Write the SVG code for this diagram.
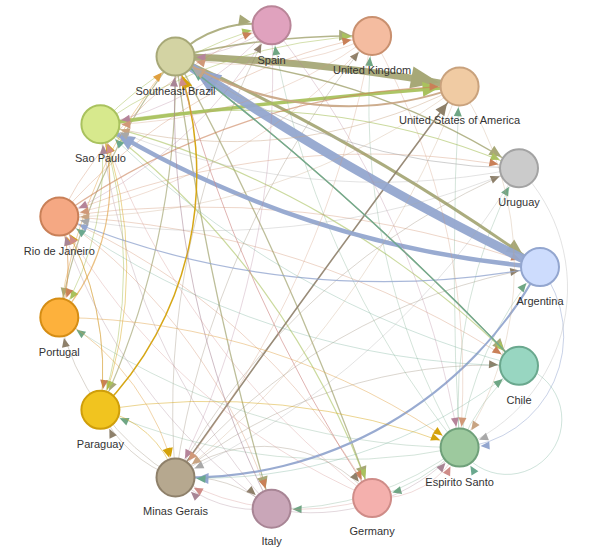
<svg xmlns="http://www.w3.org/2000/svg" xmlns:xlink="http://www.w3.org/1999/xlink" width="594" height="552" viewBox="0 0 594 552">
<style>
.e{fill:none;stroke-width:1;stroke-opacity:.32}
.sb{stroke:#a7a877}.sp{stroke:#a9c25e}.rj{stroke:#c98058}.mg{stroke:#8e806a}.es{stroke:#6fa684}
.ar{stroke:#93a6cf}.ch{stroke:#6aa88e}.py{stroke:#d4a20a}.pt{stroke:#e0a040}.spa{stroke:#b5849a}
.uk{stroke:#d09878}.us{stroke:#c8a482}.ur{stroke:#a8a8a8}.it{stroke:#a88595}.ge{stroke:#cf8c88}
.n circle{stroke-width:2}
.n text{font-family:"Liberation Sans",Arial,sans-serif;font-size:11px;fill:#333;text-anchor:middle}
</style>
<defs>
<path id="ts" d="M-30,-4L-21,0L-30,4z"/>
<path id="tm" d="M-33,-5.5L-21,0L-33,5.5z"/>
<path id="tl" d="M-37,-7.5L-21,0L-37,7.5z"/>
<path id="txl" d="M-49,-11L-21,0L-49,11z"/>
<marker id="sb-s" overflow="visible" orient="auto" markerUnits="userSpaceOnUse" markerWidth="1" markerHeight="1"><use xlink:href="#ts" fill="#a7a877"/></marker>
<marker id="sb-m" overflow="visible" orient="auto" markerUnits="userSpaceOnUse" markerWidth="1" markerHeight="1"><use xlink:href="#tm" fill="#a7a877"/></marker>
<marker id="sb-l" overflow="visible" orient="auto" markerUnits="userSpaceOnUse" markerWidth="1" markerHeight="1"><use xlink:href="#tl" fill="#a7a877"/></marker>
<marker id="sb-xl" overflow="visible" orient="auto" markerUnits="userSpaceOnUse" markerWidth="1" markerHeight="1"><use xlink:href="#txl" fill="#a7a877"/></marker>
<marker id="sp-s" overflow="visible" orient="auto" markerUnits="userSpaceOnUse" markerWidth="1" markerHeight="1"><use xlink:href="#ts" fill="#a9c25e"/></marker>
<marker id="sp-l" overflow="visible" orient="auto" markerUnits="userSpaceOnUse" markerWidth="1" markerHeight="1"><use xlink:href="#tl" fill="#a9c25e"/></marker>
<marker id="rj-s" overflow="visible" orient="auto" markerUnits="userSpaceOnUse" markerWidth="1" markerHeight="1"><use xlink:href="#ts" fill="#c98058"/></marker>
<marker id="mg-s" overflow="visible" orient="auto" markerUnits="userSpaceOnUse" markerWidth="1" markerHeight="1"><use xlink:href="#ts" fill="#8e806a"/></marker>
<marker id="mg-m" overflow="visible" orient="auto" markerUnits="userSpaceOnUse" markerWidth="1" markerHeight="1"><use xlink:href="#tm" fill="#8e806a"/></marker>
<marker id="es-s" overflow="visible" orient="auto" markerUnits="userSpaceOnUse" markerWidth="1" markerHeight="1"><use xlink:href="#ts" fill="#6fa684"/></marker>
<marker id="ar-s" overflow="visible" orient="auto" markerUnits="userSpaceOnUse" markerWidth="1" markerHeight="1"><use xlink:href="#ts" fill="#93a6cf"/></marker>
<marker id="ar-m" overflow="visible" orient="auto" markerUnits="userSpaceOnUse" markerWidth="1" markerHeight="1"><use xlink:href="#tm" fill="#93a6cf"/></marker>
<marker id="ar-l" overflow="visible" orient="auto" markerUnits="userSpaceOnUse" markerWidth="1" markerHeight="1"><use xlink:href="#tl" fill="#93a6cf"/></marker>
<marker id="ar-xl" overflow="visible" orient="auto" markerUnits="userSpaceOnUse" markerWidth="1" markerHeight="1"><use xlink:href="#txl" fill="#93a6cf"/></marker>
<marker id="ch-s" overflow="visible" orient="auto" markerUnits="userSpaceOnUse" markerWidth="1" markerHeight="1"><use xlink:href="#ts" fill="#6aa88e"/></marker>
<marker id="ch-m" overflow="visible" orient="auto" markerUnits="userSpaceOnUse" markerWidth="1" markerHeight="1"><use xlink:href="#tm" fill="#6aa88e"/></marker>
<marker id="py-s" overflow="visible" orient="auto" markerUnits="userSpaceOnUse" markerWidth="1" markerHeight="1"><use xlink:href="#ts" fill="#d4a20a"/></marker>
<marker id="py-m" overflow="visible" orient="auto" markerUnits="userSpaceOnUse" markerWidth="1" markerHeight="1"><use xlink:href="#tm" fill="#d4a20a"/></marker>
<marker id="pt-s" overflow="visible" orient="auto" markerUnits="userSpaceOnUse" markerWidth="1" markerHeight="1"><use xlink:href="#ts" fill="#e0a040"/></marker>
<marker id="spa-s" overflow="visible" orient="auto" markerUnits="userSpaceOnUse" markerWidth="1" markerHeight="1"><use xlink:href="#ts" fill="#b5849a"/></marker>
<marker id="uk-s" overflow="visible" orient="auto" markerUnits="userSpaceOnUse" markerWidth="1" markerHeight="1"><use xlink:href="#ts" fill="#d09878"/></marker>
<marker id="us-s" overflow="visible" orient="auto" markerUnits="userSpaceOnUse" markerWidth="1" markerHeight="1"><use xlink:href="#ts" fill="#c8a482"/></marker>
<marker id="us-m" overflow="visible" orient="auto" markerUnits="userSpaceOnUse" markerWidth="1" markerHeight="1"><use xlink:href="#tm" fill="#c8a482"/></marker>
<marker id="ur-s" overflow="visible" orient="auto" markerUnits="userSpaceOnUse" markerWidth="1" markerHeight="1"><use xlink:href="#ts" fill="#a8a8a8"/></marker>
<marker id="it-s" overflow="visible" orient="auto" markerUnits="userSpaceOnUse" markerWidth="1" markerHeight="1"><use xlink:href="#ts" fill="#a88595"/></marker>
<marker id="ge-s" overflow="visible" orient="auto" markerUnits="userSpaceOnUse" markerWidth="1" markerHeight="1"><use xlink:href="#ts" fill="#cf8c88"/></marker>
</defs>
<rect width="594" height="552" fill="#fff"/>
<g id="edges">
<!-- Southeast Brazil -->
<path class="e sb" d="M175.5,56.6A110,110 0 0,1 271.6,25.3" style="stroke-width:2;stroke-opacity:.9" marker-end="url(#sb-m)"/>
<path class="e sb" d="M175.5,56.6A800,800 0 0,1 372.1,35.9" style="stroke-width:1.5;stroke-opacity:.85" marker-end="url(#sb-m)"/>
<path class="e sb" d="M175.5,56.6A1800,1800 0 0,1 459.6,86.4" style="stroke-width:7;stroke-opacity:.95" marker-end="url(#sb-xl)"/>
<path class="e sb" d="M175.5,56.6A700,700 0 0,1 519,168.2" style="stroke-width:1.5;stroke-opacity:.85" marker-end="url(#sb-m)"/>
<path class="e sb" d="M175.5,56.6A2200,2200 0 0,1 540,267" style="stroke-width:3;stroke-opacity:.95" marker-end="url(#sb-l)"/>
<path class="e sb" d="M175.5,56.6A3000,3000 0 0,1 519,365.8" style="stroke-width:1.5;stroke-opacity:.85" marker-end="url(#sb-m)"/>
<path class="e sb" d="M175.5,56.6A3000,3000 0 0,1 372.1,498.1" style="stroke-width:1.3;stroke-opacity:.75" marker-end="url(#sb-m)"/>
<path class="e sb" d="M175.5,56.6A3000,3000 0 0,0 271.6,508.7" style="stroke-width:1.3;stroke-opacity:.75" marker-end="url(#sb-m)"/>
<path class="e sb" d="M175.5,56.6A600,600 0 0,0 59.3,317.5" style="stroke-width:1.2;stroke-opacity:.7" marker-end="url(#sb-s)"/>
<path class="e sb" d="M175.5,56.6A800,800 0 0,1 100.4,409.8" style="stroke-width:1.2;stroke-opacity:.7" marker-end="url(#sb-s)"/>
<!-- Sao Paulo -->
<path class="e sp" d="M100.4,124.2A350,350 0 0,1 271.6,25.3" style="stroke-opacity:.5" marker-end="url(#sp-s)"/>
<path class="e sp" d="M100.4,124.2A500,500 0 0,1 372.1,35.9" style="stroke-opacity:.5" marker-end="url(#sp-s)"/>
<path class="e sp" d="M100.4,124.2A6000,6000 0 0,1 459.6,86.4" style="stroke-width:3.5;stroke-opacity:.95" marker-end="url(#sp-l)"/>
<path class="e sp" d="M100.4,124.2A700,700 0 0,1 519,168.2" style="stroke-width:1.2;stroke-opacity:.6" marker-end="url(#sp-s)"/>
<path class="e sp" d="M100.4,124.2A900,900 0 0,1 519,365.8" style="stroke-width:1.2;stroke-opacity:.6" marker-end="url(#sp-s)"/>
<path class="e sp" d="M100.4,124.2A800,800 0 0,1 372.1,498.1" style="stroke-width:1.2;stroke-opacity:.6" marker-end="url(#sp-s)"/>
<path class="e sp" d="M100.4,124.2A300,300 0 0,1 59.3,317.5" style="stroke-opacity:.5" marker-end="url(#sp-s)"/>
<path class="e sp" d="M100.4,124.2A450,450 0 0,1 100.4,409.8" style="stroke-opacity:.5" marker-end="url(#sp-s)"/>
<!-- Rio de Janeiro -->
<path class="e rj" d="M59.3,216.5A400,400 0 0,1 271.6,25.3" marker-end="url(#rj-s)"/>
<path class="e rj" d="M59.3,216.5A550,550 0 0,1 372.1,35.9" marker-end="url(#rj-s)"/>
<path class="e rj" d="M59.3,216.5A700,700 0 0,1 459.6,86.4" style="stroke-width:1.3;stroke-opacity:.6" marker-end="url(#rj-s)"/>
<path class="e rj" d="M59.3,216.5A800,800 0 0,1 519,168.2" marker-end="url(#rj-s)"/>
<path class="e rj" d="M59.3,216.5A1000,1000 0 0,1 540,267" marker-end="url(#rj-s)"/>
<path class="e rj" d="M59.3,216.5A900,900 0 0,1 519,365.8" marker-end="url(#rj-s)"/>
<path class="e rj" d="M59.3,216.5A650,650 0 0,1 372.1,498.1" marker-end="url(#rj-s)"/>
<path class="e rj" d="M59.3,216.5A550,550 0 0,1 271.6,508.7" marker-end="url(#rj-s)"/>
<path class="e rj" d="M59.3,216.5A150,150 0 0,1 59.3,317.5" marker-end="url(#rj-s)"/>
<path class="e rj" d="M59.3,216.5A300,300 0 0,1 100.4,409.8" marker-end="url(#rj-s)"/>
<!-- Minas Gerais -->
<path class="e mg" d="M175.5,477.4A800,800 0 0,1 271.6,25.3" marker-end="url(#mg-s)"/>
<path class="e mg" d="M175.5,477.4A900,900 0 0,1 372.1,35.9" marker-end="url(#mg-s)"/>
<path class="e mg" d="M175.5,477.4A20000,20000 0 0,1 459.6,86.4" style="stroke-width:1.6;stroke-opacity:.9" marker-end="url(#mg-m)"/>
<path class="e mg" d="M175.5,477.4A700,700 0 0,1 519,168.2" marker-end="url(#mg-s)"/>
<path class="e mg" d="M175.5,477.4A600,600 0 0,1 540,267" marker-end="url(#mg-s)"/>
<path class="e mg" d="M175.5,477.4A500,500 0 0,1 519,365.8" marker-end="url(#mg-s)"/>
<path class="e mg" d="M175.5,477.4A140,140 0 0,1 372.1,498.1" marker-end="url(#mg-s)"/>
<path class="e mg" d="M175.5,477.4A130,130 0 0,1 271.6,508.7" marker-end="url(#mg-s)"/>
<path class="e mg" d="M175.5,477.4A250,250 0 0,1 59.3,317.5" marker-end="url(#mg-s)"/>
<path class="e mg" d="M175.5,477.4A130,130 0 0,1 100.4,409.8" marker-end="url(#mg-s)"/>
<!-- Espirito Santo -->
<path class="e es" d="M459.6,447.6A900,900 0 0,1 271.6,25.3" style="stroke-opacity:.3" marker-end="url(#es-s)"/>
<path class="e es" d="M459.6,447.6A700,700 0 0,1 372.1,35.9" style="stroke-opacity:.3" marker-end="url(#es-s)"/>
<path class="e es" d="M459.6,447.6A3000,3000 0 0,1 459.6,86.4" style="stroke-opacity:.3" marker-end="url(#es-s)"/>
<path class="e es" d="M459.6,447.6A500,500 0 0,1 519,168.2" style="stroke-opacity:.3" marker-end="url(#es-s)"/>
<path class="e es" d="M459.6,447.6A350,350 0 0,1 540,267" style="stroke-opacity:.3" marker-end="url(#es-s)"/>
<path class="e es" d="M459.6,447.6A200,200 0 0,1 519,365.8" style="stroke-opacity:.3" marker-end="url(#es-s)"/>
<path class="e es" d="M459.6,447.6A200,200 0 0,1 372.1,498.1" style="stroke-opacity:.3" marker-end="url(#es-s)"/>
<path class="e es" d="M459.6,447.6A300,300 0 0,1 271.6,508.7" style="stroke-opacity:.3" marker-end="url(#es-s)"/>
<path class="e es" d="M459.6,447.6A700,700 0 0,1 59.3,317.5" style="stroke-opacity:.3" marker-end="url(#es-s)"/>
<path class="e es" d="M459.6,447.6A600,600 0 0,1 100.4,409.8" style="stroke-opacity:.3" marker-end="url(#es-s)"/>
<!-- Argentina -->
<path class="e ar" d="M540,267A2800,2800 0 0,1 175.5,56.6" style="stroke-width:9;stroke-opacity:.95" marker-end="url(#ar-xl)"/>
<path class="e ar" d="M540,267A1000,1000 0 0,1 100.4,124.2" style="stroke-width:4.5;stroke-opacity:.95" marker-end="url(#ar-l)"/>
<path class="e ar" d="M540,267A840,840 0 0,1 59.3,216.5" style="stroke-width:1.2;stroke-opacity:.8" marker-end="url(#ar-s)"/>
<path class="e ar" d="M540,267A400,400 0 0,1 175.5,477.4" style="stroke-width:2.2;stroke-opacity:.95" marker-end="url(#ar-m)"/>
<path class="e ar" d="M540,267A112,112 0 0,1 459.6,447.6" style="stroke-opacity:.5" marker-end="url(#ar-s)"/>
<!-- Chile -->
<path class="e ch" d="M519,365.8A3000,3000 0 0,0 175.5,56.6" style="stroke-width:1.5;stroke-opacity:.9" marker-end="url(#ch-m)"/>
<path class="e ch" d="M519,365.8A900,900 0 0,1 100.4,124.2" marker-end="url(#ch-s)"/>
<path class="e ch" d="M519,365.8A800,800 0 0,1 59.3,216.5" marker-end="url(#ch-s)"/>
<path class="e ch" d="M519,365.8A500,500 0 0,1 175.5,477.4" marker-end="url(#ch-s)"/>
<path class="e ch" d="M519,365.8A55,55 0 1,1 459.6,447.6" marker-end="url(#ch-s)"/>
<!-- Paraguay -->
<path class="e py" d="M100.4,409.8A336,336 0 0,0 175.5,56.6" style="stroke-width:1.5;stroke-opacity:.95" marker-end="url(#py-m)"/>
<path class="e py" d="M100.4,409.8A400,400 0 0,0 100.4,124.2" style="stroke-opacity:.45" marker-end="url(#py-s)"/>
<path class="e py" d="M100.4,409.8A300,300 0 0,0 59.3,216.5" style="stroke-opacity:.45" marker-end="url(#py-s)"/>
<path class="e py" d="M100.4,409.8A100,100 0 0,1 175.5,477.4" style="stroke-opacity:.45" marker-end="url(#py-s)"/>
<path class="e py" d="M100.4,409.8A700,700 0 0,1 459.6,447.6" style="stroke-opacity:.45" marker-end="url(#py-s)"/>
<!-- Portugal -->
<path class="e pt" d="M59.3,317.5A500,500 0 0,1 175.5,56.6" style="stroke-opacity:.45" marker-end="url(#pt-s)"/>
<path class="e pt" d="M59.3,317.5A200,200 0 0,0 100.4,124.2" style="stroke-width:1.2;stroke-opacity:.65" marker-end="url(#py-s)"/>
<path class="e pt" d="M59.3,317.5A150,150 0 0,0 59.3,216.5" style="stroke-opacity:.45" marker-end="url(#pt-s)"/>
<path class="e pt" d="M59.3,317.5A250,250 0 0,1 175.5,477.4" style="stroke-opacity:.45" marker-end="url(#py-s)"/>
<path class="e pt" d="M59.3,317.5A700,700 0 0,1 459.6,447.6" style="stroke-opacity:.45" marker-end="url(#py-s)"/>
<!-- Spain -->
<path class="e spa" d="M271.6,25.3A150,150 0 0,1 175.5,56.6" marker-end="url(#spa-s)"/>
<path class="e spa" d="M271.6,25.3A300,300 0 0,1 100.4,124.2" marker-end="url(#spa-s)"/>
<path class="e spa" d="M271.6,25.3A450,450 0 0,1 59.3,216.5" marker-end="url(#spa-s)"/>
<path class="e spa" d="M271.6,25.3A900,900 0 0,1 175.5,477.4" marker-end="url(#spa-s)"/>
<path class="e spa" d="M271.6,25.3A900,900 0 0,1 459.6,447.6" marker-end="url(#spa-s)"/>
<!-- United Kingdom -->
<path class="e uk" d="M372.1,35.9A300,300 0 0,1 175.5,56.6" marker-end="url(#uk-s)"/>
<path class="e uk" d="M372.1,35.9A450,450 0 0,1 100.4,124.2" marker-end="url(#uk-s)"/>
<path class="e uk" d="M372.1,35.9A550,550 0 0,1 59.3,216.5" marker-end="url(#uk-s)"/>
<path class="e uk" d="M372.1,35.9A1000,1000 0 0,1 175.5,477.4" marker-end="url(#uk-s)"/>
<path class="e uk" d="M372.1,35.9A700,700 0 0,1 459.6,447.6" marker-end="url(#uk-s)"/>
<!-- USA -->
<path class="e us" d="M459.6,86.4A325,325 0 0,1 175.5,56.6" style="stroke-width:2;stroke-opacity:.9" marker-end="url(#us-m)"/>
<path class="e us" d="M459.6,86.4A500,500 0 0,1 100.4,124.2" style="stroke-opacity:.45" marker-end="url(#us-s)"/>
<path class="e us" d="M459.6,86.4A650,650 0 0,1 59.3,216.5" marker-end="url(#us-s)"/>
<path class="e us" d="M459.6,86.4A900,900 0 0,1 175.5,477.4" marker-end="url(#us-s)"/>
<path class="e us" d="M459.6,86.4A325,325 0 0,1 459.6,447.6" marker-end="url(#us-s)"/>
<!-- Uruguay -->
<path class="e ur" d="M519,168.2A600,600 0 0,1 175.5,56.6" style="stroke-opacity:.55" marker-end="url(#ur-s)"/>
<path class="e ur" d="M519,168.2A700,700 0 0,1 100.4,124.2" marker-end="url(#ur-s)"/>
<path class="e ur" d="M519,168.2A800,800 0 0,1 59.3,216.5" marker-end="url(#ur-s)"/>
<path class="e ur" d="M519,168.2A800,800 0 0,1 175.5,477.4" marker-end="url(#ur-s)"/>
<path class="e ur" d="M519,168.2A172,172 0 0,1 459.6,447.6" marker-end="url(#ur-s)"/>
<!-- Italy -->
<path class="e it" d="M271.6,508.7A900,900 0 0,1 175.5,56.6" style="stroke-opacity:.55" marker-end="url(#it-s)"/>
<path class="e it" d="M271.6,508.7A700,700 0 0,1 100.4,124.2" marker-end="url(#it-s)"/>
<path class="e it" d="M271.6,508.7A550,550 0 0,1 59.3,216.5" marker-end="url(#it-s)"/>
<path class="e it" d="M271.6,508.7A120,120 0 0,1 175.5,477.4" marker-end="url(#it-s)"/>
<path class="e it" d="M271.6,508.7A200,200 0 0,0 459.6,447.6" marker-end="url(#it-s)"/>
<!-- Germany -->
<path class="e ge" d="M372.1,498.1A1500,1500 0 0,1 175.5,56.6" style="stroke-opacity:.65" marker-end="url(#ge-s)"/>
<path class="e ge" d="M372.1,498.1A800,800 0 0,1 100.4,124.2" marker-end="url(#ge-s)"/>
<path class="e ge" d="M372.1,498.1A650,650 0 0,1 59.3,216.5" marker-end="url(#ge-s)"/>
<path class="e ge" d="M372.1,498.1A250,250 0 0,1 175.5,477.4" marker-end="url(#ge-s)"/>
<path class="e ge" d="M372.1,498.1A90,90 0 0,0 459.6,447.6" marker-end="url(#ge-s)"/>
</g>
<g id="node-spain" class="n"><circle cx="271.6" cy="25.3" r="19" fill="#e0a2be" stroke="#b98598"/><text x="271.6" y="64">Spain</text></g>
<g id="node-uk" class="n"><circle cx="372.1" cy="35.9" r="19" fill="#f4bca0" stroke="#c9906f"/><text x="372.1" y="74">United Kingdom</text></g>
<g id="node-southeast-brazil" class="n"><circle cx="175.5" cy="56.6" r="19" fill="#d3d3a3" stroke="#a7a877"/><text x="175.5" y="94.6">Southeast Brazil</text></g>
<g id="node-usa" class="n"><circle cx="459.6" cy="86.4" r="19" fill="#f0cba3" stroke="#c9a27d"/><text x="459.6" y="124.4">United States of America</text></g>
<g id="node-sao-paulo" class="n"><circle cx="100.4" cy="124.2" r="19" fill="#d7e98d" stroke="#a9c25e"/><text x="100.4" y="162.2">Sao Paulo</text></g>
<g id="node-uruguay" class="n"><circle cx="519" cy="168.2" r="19" fill="#cbcbcb" stroke="#a3a3a3"/><text x="519" y="206.2">Uruguay</text></g>
<g id="node-rio" class="n"><circle cx="59.3" cy="216.5" r="19" fill="#f5a883" stroke="#c98058"/><text x="59.3" y="254.5">Rio de Janeiro</text></g>
<g id="node-argentina" class="n"><circle cx="540" cy="267" r="19" fill="#cddcfd" stroke="#93a6cf"/><text x="540" y="305">Argentina</text></g>
<g id="node-portugal" class="n"><circle cx="59.3" cy="317.5" r="19" fill="#fdb13c" stroke="#d58d14"/><text x="59.3" y="355.5">Portugal</text></g>
<g id="node-chile" class="n"><circle cx="519" cy="365.8" r="19" fill="#98d6c1" stroke="#6aa88e"/><text x="519" y="403.8">Chile</text></g>
<g id="node-paraguay" class="n"><circle cx="100.4" cy="409.8" r="19" fill="#f1c41f" stroke="#cf9e0a"/><text x="100.4" y="447.8">Paraguay</text></g>
<g id="node-espirito-santo" class="n"><circle cx="459.6" cy="447.6" r="19" fill="#9dc99e" stroke="#6fa07a"/><text x="459.6" y="485.6">Espirito Santo</text></g>
<g id="node-minas-gerais" class="n"><circle cx="175.5" cy="477.4" r="19" fill="#b6a88f" stroke="#8e806a"/><text x="175.5" y="515.4">Minas Gerais</text></g>
<g id="node-germany" class="n"><circle cx="372.1" cy="498.1" r="19" fill="#f4b0ad" stroke="#cf8c88"/><text x="372.1" y="535">Germany</text></g>
<g id="node-italy" class="n"><circle cx="271.6" cy="508.7" r="19" fill="#c9a6b8" stroke="#a88595"/><text x="271.6" y="545">Italy</text></g>
</svg>
